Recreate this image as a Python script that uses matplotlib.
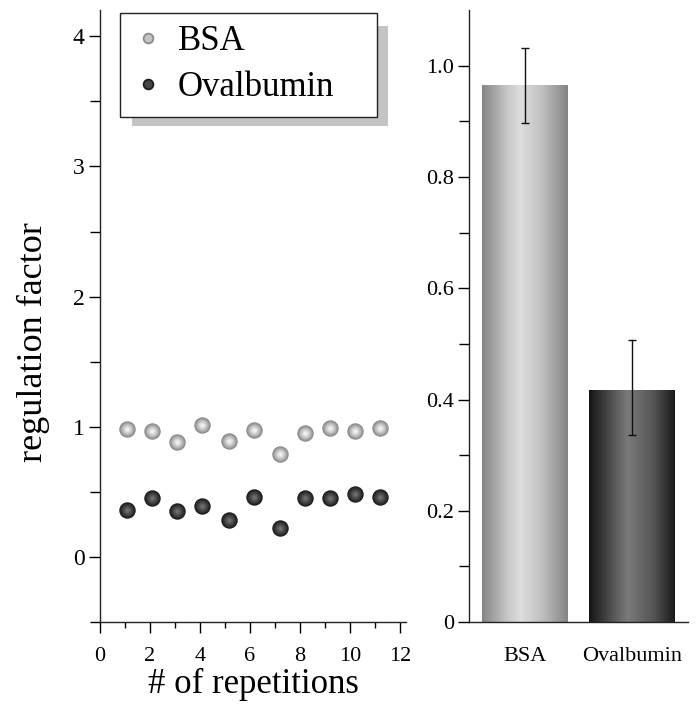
import numpy as np
import matplotlib
matplotlib.use("Agg")
import matplotlib.pyplot as plt
from matplotlib.colors import LinearSegmentedColormap, to_rgb
from matplotlib.patches import Rectangle
from matplotlib.ticker import MultipleLocator, FixedLocator

plt.rcParams['font.family'] = ['Liberation Serif', 'DejaVu Serif']

# repetition data (left panel)
rep_x = [1.1, 2.1, 3.1, 4.1, 5.15, 6.15, 7.2, 8.2, 9.2, 10.2, 11.2]
bsa_vals = [0.98, 0.964, 0.883, 1.013, 0.891, 0.974, 0.792, 0.953, 0.990, 0.964, 0.992]
ova_vals = [0.358, 0.455, 0.353, 0.392, 0.283, 0.462, 0.223, 0.455, 0.455, 0.483, 0.462]

# summary bars (right panel)
bar_labels = ["BSA", "Ovalbumin"]
bar_means = [0.966, 0.418]
bar_err_lo = [0.068, 0.082]
bar_err_hi = [0.066, 0.090]

fig = plt.figure(figsize=(6.97, 7.13), dpi=100)
ax1 = fig.add_axes([0.1435, 0.1276, 0.439, 0.858])
ax2 = fig.add_axes([0.673, 0.1276, 0.314, 0.858])


def sphere(ax, x, y, edge, mid, hi, size=140):
    # stack shrinking circles to fake the shaded ball look
    c0, c1, c2 = np.array(to_rgb(edge)), np.array(to_rgb(mid)), np.array(to_rgb(hi))
    n = 8
    for k in range(n):
        t = k / (n - 1)
        col = c0 + (c1 - c0) * min(1, 2 * t) if t < 0.5 else c1 + (c2 - c1) * (2 * t - 1)
        ax.scatter(x, y, s=size * (1 - 0.85 * t) ** 2, color=col, linewidths=0, zorder=3 + k * 0.01)


sphere(ax1, rep_x, bsa_vals, '#8a8a8a', '#c6c6c6', '#f4f4f4')
sphere(ax1, rep_x, ova_vals, '#1c1c1c', '#464646', '#727272')

ax1.set_xlim(0, 12.25)
ax1.set_ylim(-0.5, 4.2)
ax1.spines['top'].set_visible(False)
ax1.spines['right'].set_visible(False)
for s in ['left', 'bottom']:
    ax1.spines[s].set_linewidth(1.0)
    ax1.spines[s].set_color('#222222')
ax1.xaxis.set_major_locator(MultipleLocator(2))
ax1.xaxis.set_minor_locator(MultipleLocator(1))
ax1.yaxis.set_major_locator(FixedLocator([0, 1, 2, 3, 4]))
ax1.yaxis.set_minor_locator(FixedLocator([-0.5, 0.5, 1.5, 2.5, 3.5]))
ax1.tick_params(axis='both', which='major', direction='out', length=8, width=1, labelsize=16)
ax1.tick_params(axis='x', which='major', pad=10)
ax1.tick_params(axis='y', which='major', pad=3, labelsize=17)
ax1.tick_params(axis='x', which='minor', direction='out', length=4.5, width=1)
ax1.tick_params(axis='y', which='minor', direction='out', length=7, width=1)
ax1.set_xlabel("# of repetitions", fontsize=25, labelpad=1)
ax1.set_ylabel("regulation factor", fontsize=26)
ax1.yaxis.set_label_coords(-0.163, 0.4575)

# legend with a flat grey drop shadow
leg_handles = [
    plt.Line2D([], [], ls='', marker='o', ms=7, mfc='#c4c4c4', mec='#8a8a8a', mew=1.3),
    plt.Line2D([], [], ls='', marker='o', ms=7, mfc='#454545', mec='#1c1c1c', mew=1.3),
]
leg = ax1.legend(leg_handles, ["BSA", "Ovalbumin"], loc='upper left', mode='expand',
                 bbox_to_anchor=(120 / 697, 1 - 113 / 713, 257 / 697, 100 / 713),
                 bbox_transform=fig.transFigure,
                 fontsize=25, frameon=True, fancybox=False, borderaxespad=0,
                 handletextpad=0.4, labelspacing=0.37, borderpad=0.36, handlelength=0.9)
leg.get_frame().set_edgecolor('#222222')
leg.get_frame().set_linewidth(1.0)
leg.get_frame().set_alpha(1)
leg.set_zorder(6)
ax1.add_patch(Rectangle((132 / 697, 1 - 126 / 713), 256 / 697, 100 / 713,
                        transform=fig.transFigure, facecolor='#c4c4c4',
                        edgecolor='none', zorder=5, clip_on=False))

# right panel: gradient bars
bsa_cmap = LinearSegmentedColormap.from_list('bsa', [(0, '#858585'), (0.3, '#c8c8c8'), (0.45, '#dedede'),
                                                      (0.7, '#c0c0c0'), (1, '#848484')])
ova_cmap = LinearSegmentedColormap.from_list('ova', [(0, '#141414'), (0.3, '#5a5a5a'), (0.45, '#7a7a7a'),
                                                      (0.75, '#555555'), (1, '#1a1a1a')])
pos = np.arange(len(bar_labels))
bars = ax2.bar(pos, bar_means, width=0.8, color='none', edgecolor='none')
grad = np.linspace(0, 1, 256).reshape(1, -1)
for patch, cm in zip(bars.patches, [bsa_cmap, ova_cmap]):
    x0, w, h = patch.get_x(), patch.get_width(), patch.get_height()
    im = ax2.imshow(grad, cmap=cm, extent=(x0, x0 + w, 0, h), aspect='auto', zorder=1)
    im.set_clip_path(patch)
ax2.errorbar(pos, bar_means, yerr=[bar_err_lo, bar_err_hi], fmt='none', ecolor='#111111',
             elinewidth=1, capsize=3, capthick=1, zorder=4)

ax2.set_xlim(-0.52, 1.52)
ax2.set_ylim(0, 1.1)
ax2.spines['top'].set_visible(False)
ax2.spines['right'].set_visible(False)
for s in ['left', 'bottom']:
    ax2.spines[s].set_linewidth(1.0)
    ax2.spines[s].set_color('#222222')
ax2.yaxis.set_major_locator(FixedLocator([0, 0.2, 0.4, 0.6, 0.8, 1.0]))
ax2.yaxis.set_minor_locator(FixedLocator([0.1, 0.3, 0.5, 0.7, 0.9]))
ax2.set_yticklabels(["0", "0.2", "0.4", "0.6", "0.8", "1.0"])
ax2.set_xticks(pos)
ax2.set_xticklabels(bar_labels)
ax2.tick_params(axis='y', which='major', direction='out', length=8, width=1, labelsize=16, pad=3)
ax2.tick_params(axis='y', which='minor', direction='out', length=7, width=1)
ax2.tick_params(axis='x', length=0, labelsize=16, pad=18)

fig.savefig("out.png", dpi=100)
